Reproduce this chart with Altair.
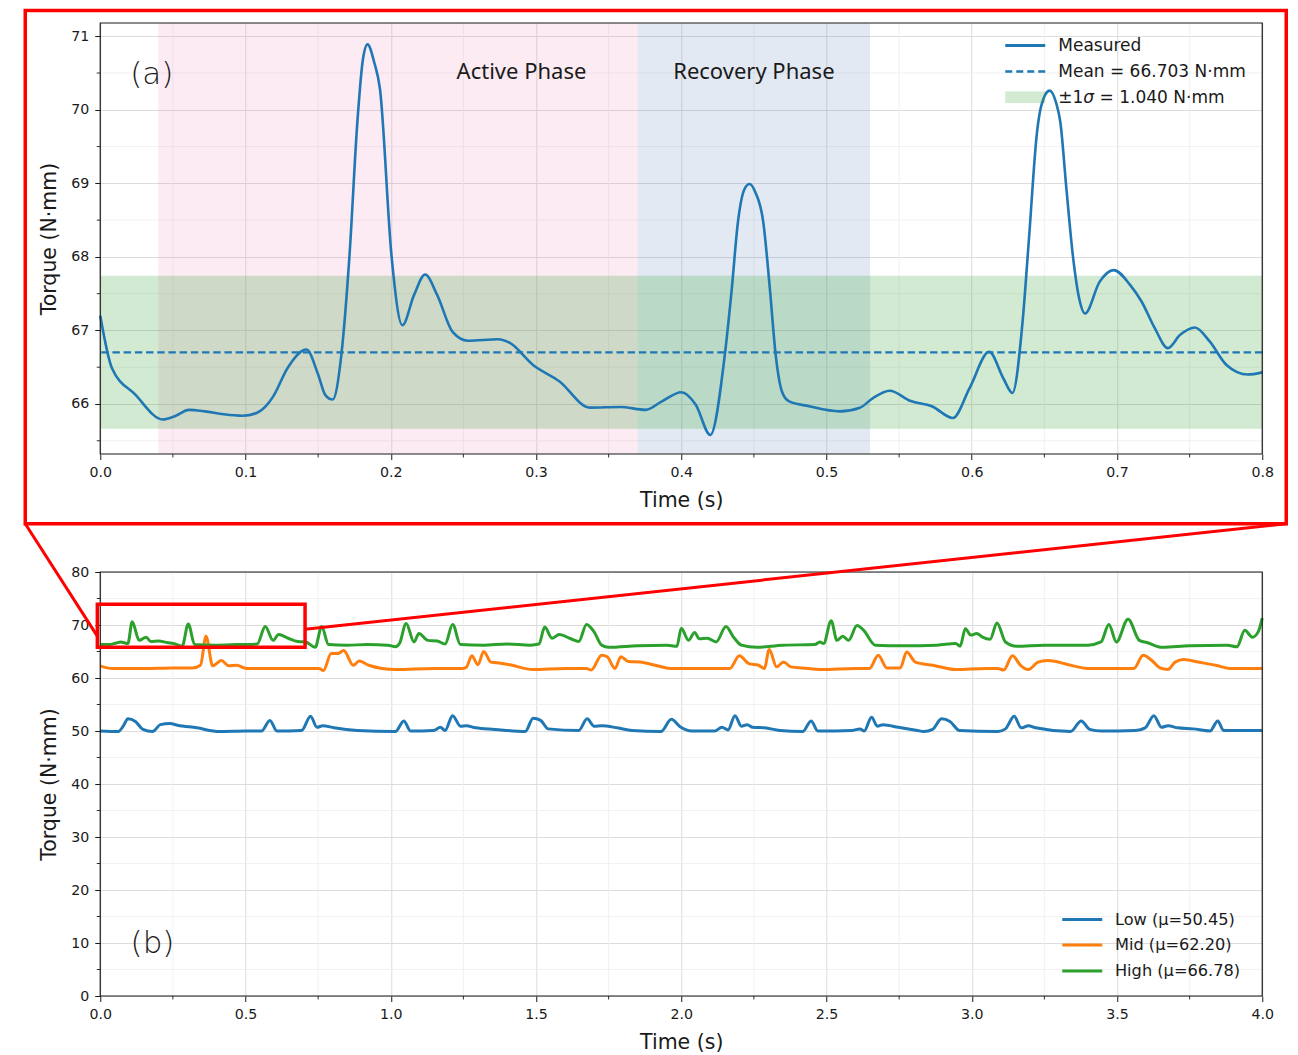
import altair as alt
import pandas as pd

# ---------------- panel (a) data ----------------
a_time = [0.000, 0.008, 0.024, 0.043, 0.052, 0.061, 0.072, 0.085, 0.098, 0.108,
          0.114, 0.119, 0.129, 0.142, 0.150, 0.155, 0.160, 0.166, 0.1716, 0.177,
          0.1808, 0.184, 0.1887, 0.1926, 0.2005, 0.208, 0.216, 0.2237, 0.232, 0.2426,
          0.253, 0.274, 0.282, 0.298, 0.316, 0.337, 0.358, 0.3754, 0.387, 0.400,
          0.410, 0.420, 0.430, 0.4348, 0.439, 0.4435, 0.447, 0.451, 0.4565, 0.461,
          0.465, 0.4693, 0.474, 0.488, 0.509, 0.523, 0.532, 0.5435, 0.558, 0.5725,
          0.587, 0.5986, 0.612, 0.6217, 0.628, 0.635, 0.6394, 0.6449, 0.6478, 0.6536,
          0.658, 0.661, 0.6652, 0.6696, 0.674, 0.678, 0.688, 0.6977, 0.709, 0.717,
          0.726, 0.735, 0.7435, 0.7536, 0.7638, 0.7754, 0.790, 0.800]
a_torque = [67.20, 66.49, 66.13, 65.79, 65.84, 65.92, 65.90, 65.86, 65.84, 65.88,
            65.97, 66.10, 66.49, 66.74, 66.40, 66.12, 66.06, 66.67, 68.02, 69.83,
            70.68, 70.89, 70.64, 70.28, 68.02, 67.07, 67.48, 67.76, 67.48, 66.98,
            66.86, 66.88, 66.83, 66.53, 66.31, 65.95, 65.96, 65.92, 66.04, 66.16,
            65.99, 65.58, 66.67, 67.57, 68.47, 68.92, 68.99, 68.88, 68.47, 67.57,
            66.67, 66.17, 66.04, 65.97, 65.90, 65.95, 66.08, 66.18, 66.04, 65.97,
            65.81, 66.22, 66.71, 66.35, 66.15, 67.12, 68.25, 69.69, 70.05, 70.26,
            70.10, 69.83, 68.92, 68.02, 67.43, 67.23, 67.66, 67.82, 67.62, 67.39,
            67.03, 66.76, 66.94, 67.04, 66.85, 66.53, 66.40, 66.43]
a_mean = 66.703
a_sigma = 1.040
phase_names = ["Active Phase", "Recovery Phase"]
phase_start = [0.04, 0.37]
phase_end = [0.37, 0.53]
a_xticks = [0.0, 0.1, 0.2, 0.3, 0.4, 0.5, 0.6, 0.7, 0.8]
a_xminor = [0.05, 0.15, 0.25, 0.35, 0.45, 0.55, 0.65, 0.75]
a_yticks = [66, 67, 68, 69, 70, 71]
a_yminor = [65.5, 66.5, 67.5, 68.5, 69.5, 70.5]

# ---------------- panel (b) data ----------------
low_t = [0.000, 0.062, 0.080, 0.095, 0.121, 0.147, 0.180, 0.207, 0.240, 0.266,
         0.332, 0.410, 0.500, 0.555, 0.584, 0.608, 0.693, 0.724, 0.746, 0.766,
         0.805, 0.884, 1.016, 1.045, 1.068, 1.147, 1.171, 1.187, 1.213, 1.240,
         1.260, 1.292, 1.358, 1.463, 1.490, 1.516, 1.542, 1.647, 1.676, 1.700,
         1.726, 1.780, 1.830, 1.930, 1.966, 1.996, 2.036, 2.115, 2.140, 2.161,
         2.185, 2.207, 2.227, 2.246, 2.286, 2.340, 2.418, 2.447, 2.470, 2.589,
         2.615, 2.630, 2.655, 2.675, 2.695, 2.747, 2.813, 2.835, 2.865, 2.896,
         2.925, 2.958, 3.090, 3.116, 3.146, 3.170, 3.195, 3.220, 3.340, 3.377,
         3.406, 3.445, 3.564, 3.597, 3.627, 3.653, 3.676, 3.709, 3.762, 3.820,
         3.847, 3.867, 4.000]
low_v = [50.0, 49.9, 51.0, 52.3, 51.8, 50.3, 49.9, 51.2, 51.4, 51.1,
         50.6, 49.9, 50.0, 50.0, 52.0, 50.0, 50.1, 52.8, 50.7, 51.0,
         50.6, 50.1, 49.9, 51.9, 50.0, 50.1, 50.7, 50.1, 52.9, 50.9,
         51.0, 50.6, 50.3, 49.9, 52.4, 52.0, 50.4, 50.1, 52.3, 50.9,
         51.0, 50.6, 50.1, 49.9, 52.2, 50.8, 50.0, 50.0, 50.7, 50.2,
         52.9, 50.9, 51.2, 50.7, 50.6, 50.1, 49.9, 51.9, 50.0, 50.1,
         50.4, 50.0, 52.6, 50.9, 51.2, 50.7, 50.1, 49.9, 50.3, 52.3,
         51.8, 50.1, 49.9, 50.4, 52.8, 50.6, 51.0, 50.6, 49.9, 51.9,
         50.3, 50.0, 50.1, 50.6, 52.9, 50.7, 51.0, 50.6, 50.4, 50.0,
         51.9, 50.1, 50.1]

mid_t = [0.000, 0.042, 0.150, 0.250, 0.318, 0.345, 0.364, 0.387, 0.417, 0.443,
         0.470, 0.503, 0.650, 0.753, 0.768, 0.795, 0.818, 0.838, 0.871, 0.891,
         0.924, 1.016, 1.150, 1.246, 1.260, 1.279, 1.300, 1.320, 1.345, 1.378,
         1.410, 1.490, 1.600, 1.674, 1.690, 1.726, 1.745, 1.772, 1.792, 1.818,
         1.858, 1.910, 1.963, 2.100, 2.167, 2.200, 2.233, 2.266, 2.286, 2.303,
         2.328, 2.352, 2.378, 2.418, 2.484, 2.600, 2.648, 2.678, 2.708, 2.754,
         2.776, 2.806, 2.866, 2.945, 3.050, 3.090, 3.110, 3.140, 3.168, 3.195,
         3.228, 3.260, 3.290, 3.320, 3.400, 3.500, 3.558, 3.590, 3.620, 3.648,
         3.675, 3.700, 3.730, 3.780, 3.840, 3.890, 4.000]
mid_v = [62.3, 61.8, 61.8, 61.9, 61.9, 62.4, 67.9, 62.3, 63.3, 62.3,
         62.4, 61.8, 61.8, 61.8, 61.4, 64.6, 64.6, 65.2, 62.4, 63.2,
         62.4, 61.6, 61.8, 61.8, 62.0, 64.2, 62.5, 65.0, 63.0, 62.8,
         62.5, 61.6, 61.8, 61.8, 61.5, 64.3, 64.0, 61.8, 64.0, 63.1,
         63.0, 62.4, 61.8, 61.8, 61.8, 64.2, 62.7, 62.4, 61.8, 65.4,
         62.1, 63.0, 62.1, 61.9, 61.6, 61.8, 61.8, 64.3, 61.9, 61.9,
         64.9, 63.0, 62.4, 61.6, 61.8, 61.8, 61.5, 64.2, 62.4, 61.6,
         63.0, 63.3, 63.1, 62.7, 61.8, 61.8, 61.8, 64.3, 63.3, 61.9,
         61.6, 63.0, 63.5, 63.0, 62.4, 61.8, 61.8]

high_t = [0.000, 0.030, 0.055, 0.070, 0.085, 0.095, 0.110, 0.134, 0.158, 0.174,
          0.200, 0.230, 0.260, 0.282, 0.303, 0.325, 0.400, 0.470, 0.540, 0.568,
          0.595, 0.614, 0.647, 0.680, 0.707, 0.740, 0.762, 0.786, 0.850, 0.920,
          0.990, 1.016, 1.030, 1.053, 1.080, 1.097, 1.128, 1.160, 1.187, 1.213,
          1.240, 1.320, 1.400, 1.480, 1.510, 1.530, 1.555, 1.580, 1.620, 1.647,
          1.674, 1.700, 1.726, 1.750, 1.850, 1.950, 1.985, 2.000, 2.025, 2.046,
          2.062, 2.090, 2.120, 2.154, 2.180, 2.207, 2.260, 2.350, 2.460, 2.477,
          2.490, 2.516, 2.536, 2.556, 2.576, 2.605, 2.628, 2.668, 2.760, 2.880,
          2.945, 2.960, 2.978, 2.997, 3.017, 3.037, 3.063, 3.087, 3.116, 3.155,
          3.250, 3.400, 3.445, 3.472, 3.498, 3.538, 3.577, 3.603, 3.656, 3.750,
          3.880, 3.913, 3.940, 3.966, 3.986, 4.000]
high_v = [66.3, 66.3, 66.6, 66.8, 66.6, 66.5, 70.6, 67.1, 67.7, 66.9,
          67.0, 66.7, 66.4, 66.0, 70.2, 66.3, 66.2, 66.3, 66.4, 69.7,
          67.1, 68.2, 67.5, 66.9, 66.8, 65.8, 69.7, 66.3, 66.2, 66.3,
          66.2, 65.9, 66.5, 70.3, 66.8, 68.4, 67.1, 67.0, 66.4, 70.1,
          66.3, 66.2, 66.4, 66.2, 66.4, 69.6, 67.5, 68.2, 67.4, 66.9,
          70.1, 68.7, 66.2, 65.8, 66.1, 66.2, 66.0, 69.4, 67.1, 68.6,
          67.4, 67.5, 66.8, 69.7, 67.7, 66.2, 65.8, 66.2, 66.3, 66.8,
          66.5, 70.8, 67.1, 67.9, 67.1, 69.9, 69.0, 66.2, 66.1, 66.2,
          66.5, 66.0, 69.3, 68.1, 68.4, 67.7, 67.3, 70.4, 66.8, 66.0,
          66.2, 66.2, 66.8, 70.1, 66.8, 71.1, 67.1, 66.7, 65.8, 66.1,
          66.2, 65.9, 69.0, 67.7, 68.7, 71.3]

series_names = ["Low (\u03bc=50.45)", "Mid (\u03bc=62.20)", "High (\u03bc=66.78)"]
b_xticks = [0.0, 0.5, 1.0, 1.5, 2.0, 2.5, 3.0, 3.5, 4.0]
b_xminor = [0.25, 0.75, 1.25, 1.75, 2.25, 2.75, 3.25, 3.75]
b_yticks = [0, 10, 20, 30, 40, 50, 60, 70, 80]
b_yminor = [5, 15, 25, 35, 45, 55, 65, 75]

# ---------------- styling ----------------
W, HA, HB = 1162, 431, 424
C_BLUE, C_ORANGE, C_GREEN = "#1f77b4", "#ff7f0e", "#2ca02c"
series_colors = [C_BLUE, C_ORANGE, C_GREEN]
phase_colors = ["#eb7aa8", "#3e6caf"]
INK = "#1a1a1a"
FONT = "DejaVu Sans"
GRID_MAJOR = "#dcdcdc"
GRID_MINOR = "#eeeeee"
ONE = pd.DataFrame({"k": [0]})


def make_axis(values, fmt, title):
    return alt.Axis(values=values, format=fmt, title=title, grid=True,
                    gridColor=GRID_MAJOR, gridWidth=1, domain=False,
                    tickSize=5.5, tickColor=INK, tickWidth=1,
                    labelFont=FONT, labelFontSize=14.2, labelColor=INK,
                    labelPadding=6, labelFlush=False, labelOverlap=False,
                    titleFont=FONT, titleFontSize=20.5,
                    titleFontWeight="normal", titleColor=INK,
                    titlePadding=11)


class Panel:
    def __init__(self, xdom, ydom, xticks, yticks):
        self.xs = alt.Scale(domain=xdom, nice=False, zero=False)
        self.ys = alt.Scale(domain=ydom, nice=False, zero=False)
        self.xa = make_axis(xticks, ".1f", "Time (s)")
        self.ya = make_axis(yticks, "d", "Torque (N\u00b7mm)")

    def X(self, f):
        return alt.X(f, scale=self.xs, axis=self.xa)

    def Y(self, f):
        return alt.Y(f, scale=self.ys, axis=self.ya)


def minor_layers(p, xs, ys, h):
    gx = alt.Chart(pd.DataFrame({"t": xs})).mark_rule(
        color=GRID_MINOR, strokeWidth=0.8).encode(x=p.X("t:Q"))
    gy = alt.Chart(pd.DataFrame({"v": ys})).mark_rule(
        color=GRID_MINOR, strokeWidth=0.8).encode(y=p.Y("v:Q"))
    tx = alt.Chart(pd.DataFrame({"t": xs})).mark_rule(
        color=INK, strokeWidth=0.9).encode(
        x=p.X("t:Q"), y=alt.value(h), y2=alt.value(h + 3.5))
    ty = alt.Chart(pd.DataFrame({"v": ys})).mark_rule(
        color=INK, strokeWidth=0.9).encode(
        y=p.Y("v:Q"), x=alt.value(-3.5), x2=alt.value(0))
    return gx, gy, tx, ty


def frame(h):
    return alt.Chart(ONE).mark_rect(fillOpacity=0, stroke=INK, strokeWidth=1.2).encode(
        x=alt.value(0), x2=alt.value(W), y=alt.value(0), y2=alt.value(h))


def label_at(x, y, text, size, **kw):
    return alt.Chart(ONE).mark_text(font=FONT, fontSize=size, color=INK, align="left",
                                    baseline="middle", text=text, **kw).encode(
        x=alt.value(x), y=alt.value(y))


# ================= panel (a) =================
pa = Panel([0, 0.8], [65.32, 71.18], a_xticks, a_yticks)
df_a = pd.DataFrame({"t": a_time, "v": a_torque})

gxa, gya, txa, tya = minor_layers(pa, a_xminor, a_yminor, HA)

phase_layers = [
    alt.Chart(pd.DataFrame({"start": [s], "end": [e]})).mark_rect(
        color=c, opacity=0.15).encode(
        x=pa.X("start:Q"), x2="end:Q", y=alt.value(0), y2=alt.value(HA))
    for s, e, c in zip(phase_start, phase_end, phase_colors)
]

band = alt.Chart(pd.DataFrame({"lo": [a_mean - a_sigma], "hi": [a_mean + a_sigma]})).mark_rect(
    color=C_GREEN, opacity=0.22).encode(
    x=alt.value(0), x2=alt.value(W), y=pa.Y("lo:Q"), y2="hi:Q")

mean_rule = alt.Chart(pd.DataFrame({"m": [a_mean]})).mark_rule(
    color=C_BLUE, strokeWidth=2.2, strokeDash=[7.4, 3.8]).encode(y=pa.Y("m:Q"))

line_a = alt.Chart(df_a).mark_line(color=C_BLUE, strokeWidth=2.6,
                                   interpolate="monotone").encode(
    x=pa.X("t:Q"), y=pa.Y("v:Q"))

phase_text = alt.Chart(pd.DataFrame({"label": phase_names, "t": [0.29, 0.45],
                                     "v": [70.51, 70.51]})).mark_text(
    font="Noto Sans", fontSize=22, color=INK, align="center", baseline="middle").encode(
    x=pa.X("t:Q"), y=pa.Y("v:Q"), text="label:N")

tag_a = alt.Chart(pd.DataFrame({"label": ["(a)"], "t": [0.0355], "v": [70.47]})).mark_text(
    font=FONT, fontSize=31, fontWeight=200, color=INK, align="center",
    baseline="middle").encode(x=pa.X("t:Q"), y=pa.Y("v:Q"), text="label:N")

# legend of panel (a)
LX0, LX1, LT = 905, 945, 958
leg_line = alt.Chart(ONE).mark_rule(color=C_BLUE, strokeWidth=3).encode(
    x=alt.value(LX0), x2=alt.value(LX1), y=alt.value(22.5))
leg_dash = alt.Chart(ONE).mark_rule(color=C_BLUE, strokeWidth=2.4, strokeDash=[7, 4]).encode(
    x=alt.value(LX0), x2=alt.value(LX1), y=alt.value(48.5))
leg_patch = alt.Chart(ONE).mark_rect(color=C_GREEN, opacity=0.22).encode(
    x=alt.value(LX0), x2=alt.value(LX1), y=alt.value(68.5), y2=alt.value(80))
leg_t1 = label_at(LT, 22.5, "Measured", 17)
leg_t2 = label_at(LT, 48.5, f"Mean = {a_mean:.3f} N\u00b7mm", 17)
leg_s1 = label_at(LT, 74.8, "\u00b11", 17)
leg_s2 = label_at(LT + 25.1, 74.8, "\u03c3", 17, fontStyle="italic")
leg_s3 = label_at(LT + 41.3, 74.8, f"= {a_sigma:.3f} N\u00b7mm", 17)

# red zoom frame around panel (a)
red_frame_a = alt.Chart(ONE).mark_rect(fillOpacity=0, stroke="red", strokeWidth=3.5).encode(
    x=alt.value(-75), x2=alt.value(1186), y=alt.value(-12.5), y2=alt.value(500.75))

top = alt.layer(gxa, gya, *phase_layers, band, mean_rule, line_a, txa, tya,
                phase_text, tag_a, leg_patch, leg_line, leg_dash,
                leg_t1, leg_t2, leg_s1, leg_s2, leg_s3,
                frame(HA), red_frame_a).properties(width=W, height=HA)

# ================= panel (b) =================
pb = Panel([0, 4], [0, 80], b_xticks, b_yticks)

df_b = pd.concat([
    pd.DataFrame({"t": low_t, "v": low_v, "series": series_names[0]}),
    pd.DataFrame({"t": mid_t, "v": mid_v, "series": series_names[1]}),
    pd.DataFrame({"t": high_t, "v": high_v, "series": series_names[2]}),
], ignore_index=True)

gxb, gyb, txb, tyb = minor_layers(pb, b_xminor, b_yminor, HB)

color_b = alt.Color("series:N", scale=alt.Scale(domain=series_names, range=series_colors),
                    legend=None)

lines_b = alt.Chart(df_b).mark_line(strokeWidth=3, interpolate="monotone").encode(
    x=pb.X("t:Q"), y=pb.Y("v:Q"), color=color_b, detail="series:N")

tag_b = alt.Chart(pd.DataFrame({"label": ["(b)"], "t": [0.18], "v": [9.8]})).mark_text(
    font=FONT, fontSize=31, fontWeight=200, color=INK, align="center",
    baseline="middle").encode(x=pb.X("t:Q"), y=pb.Y("v:Q"), text="label:N")

# legend of panel (b)
leg_b_y = [347.5, 373.0, 399.0]
leg_b = []
for name, col, yy in zip(series_names, series_colors, leg_b_y):
    leg_b.append(alt.Chart(ONE).mark_rule(color=col, strokeWidth=2.8).encode(
        x=alt.value(962), x2=alt.value(1002), y=alt.value(yy)))
    leg_b.append(label_at(1014.7, yy, name, 16.2))

# zoom box and connectors
zbox = alt.Chart(pd.DataFrame({"x0": [-0.01], "x1": [0.705], "y0": [65.8], "y1": [73.9]})).mark_rect(
    fillOpacity=0, stroke="red", strokeWidth=3.5).encode(
    x=pb.X("x0:Q"), x2="x1:Q", y=pb.Y("y0:Q"), y2="y1:Q")
conn_left = alt.Chart(pd.DataFrame({"x": [-0.01], "y": [67.9]})).mark_rule(
    color="red", strokeWidth=3).encode(
    x=pb.X("x:Q"), y=pb.Y("y:Q"), x2=alt.value(-75), y2=alt.value(-48.25))
conn_right = alt.Chart(pd.DataFrame({"x": [0.705], "y": [69.2]})).mark_rule(
    color="red", strokeWidth=3).encode(
    x=pb.X("x:Q"), y=pb.Y("y:Q"), x2=alt.value(1186), y2=alt.value(-48.25))

bottom = alt.layer(gxb, gyb, lines_b, txb, tyb, tag_b, *leg_b,
                   frame(HB), zbox, conn_left, conn_right).properties(width=W, height=HB)

chart = alt.vconcat(top, bottom, spacing=118, bounds="flush").properties(
    padding={"left": 15.25, "top": 0, "right": 0, "bottom": 0}
).configure(font=FONT).configure_view(stroke=None)

chart.save("out.html", embed_options={"renderer": "svg", "actions": False})
